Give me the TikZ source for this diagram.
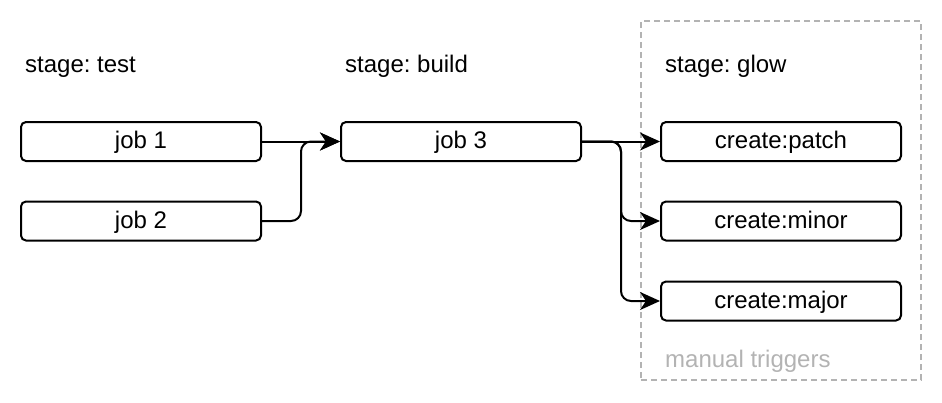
\documentclass[tikz,border=0pt]{standalone}
\usepackage{fontspec}
\setmainfont{Liberation Sans}
\usetikzlibrary{arrows.meta}
\definecolor{dashgray}{HTML}{B3B3B3}
\frenchspacing
\begin{document}
\begin{tikzpicture}[x=1pt,y=1pt,
  jobbox/.style={draw=black, line width=2pt, rounded corners=5pt, minimum width=240pt, minimum height=39pt, inner sep=0pt, text height=14pt, text depth=0pt, font=\fontsize{24}{26}\selectfont},
  stagelabel/.style={anchor=base west, inner sep=0pt, font=\fontsize{24}{26}\selectfont},
  conn/.style={draw=black, line width=2pt, rounded corners=10pt, -{Stealth[length=20pt,width=18pt,inset=6pt]}}
]
\useasboundingbox (0,0) rectangle (942,-402);
\node[draw=dashgray, line width=2pt, dash pattern=on 6pt off 4pt, minimum width=280pt, minimum height=359pt, inner sep=0pt] (frame) at (781,-200.5) {};
\node[stagelabel] (ltest) at (25,-72) {stage: test};
\node[stagelabel] (lbuild) at (345,-72) {stage: build};
\node[stagelabel] (lglow) at (665,-72) {stage: glow};
\node[stagelabel, text=dashgray] (lmanual) at (665,-367) {manual triggers};
\node[jobbox] (j1) at (141,-141.5) {job 1};
\node[jobbox] (j2) at (141,-221) {job 2};
\node[jobbox] (j3) at (461,-141.5) {job 3};
\node[jobbox] (cp) at (781,-141.5) {create:patch};
\node[jobbox] (cmin) at (781,-221) {create:minor};
\node[jobbox] (cmaj) at (781,-301) {create:major};
\draw[conn] (j1.east) -- (j3.west);
\draw[conn] (j2.east) -| (301,-141.5) -- (j3.west);
\draw[conn] (j3.east) -- (cp.west);
\draw[conn] (j3.east) -| (621,-221) -- (cmin.west);
\draw[conn] (j3.east) -| (621,-301) -- (cmaj.west);
\end{tikzpicture}
\end{document}
